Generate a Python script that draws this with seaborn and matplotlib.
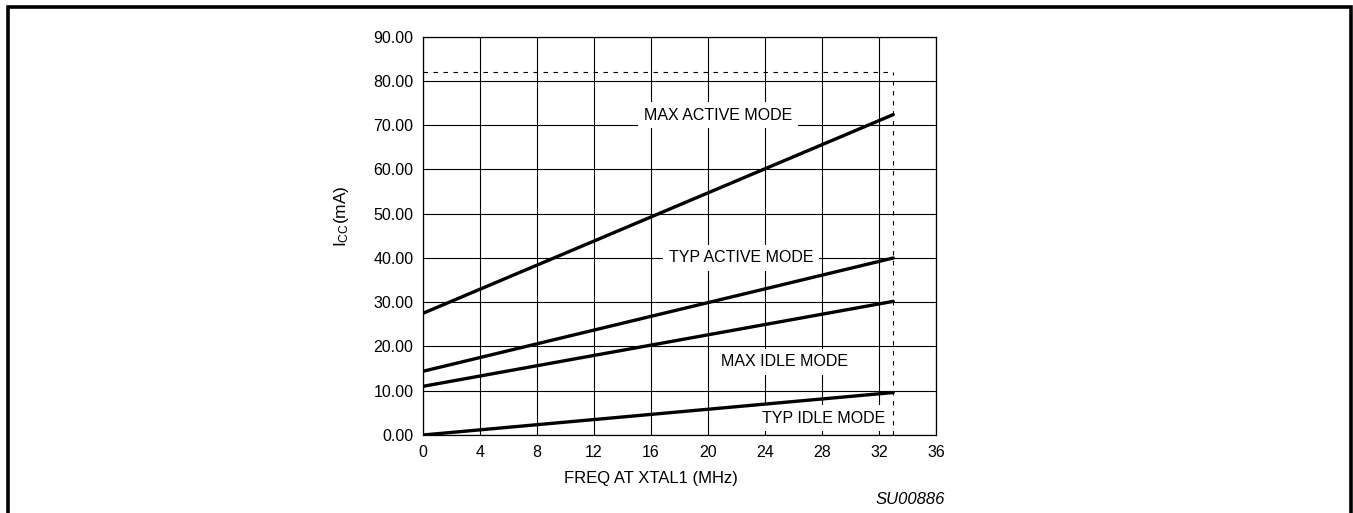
import pandas as pd
import seaborn as sns
import matplotlib.pyplot as plt
from matplotlib.patches import Rectangle

# Data (ICC vs. crystal frequency)
freq_mhz = [0, 33]
max_active = [27.5, 72.4]
typ_active = [14.4, 40.0]
max_idle = [11.0, 30.2]
typ_idle = [0.0, 9.6]

mode_names = ['MAX ACTIVE MODE', 'TYP ACTIVE MODE', 'MAX IDLE MODE', 'TYP IDLE MODE']
label_x = [20.7, 22.3, 25.4, 28.1]
label_y = [72.3, 40.0, 16.5, 3.8]

max_freq = 33
ref_level = 82

x_ticks = list(range(0, 37, 4))
y_ticks = list(range(0, 91, 10))

sns.set_style('white')
plt.rcParams['font.family'] = ['Liberation Sans', 'DejaVu Sans']
plt.rcParams['text.color'] = 'black'
plt.rcParams['axes.labelcolor'] = 'black'
plt.rcParams['xtick.color'] = 'black'
plt.rcParams['ytick.color'] = 'black'
plt.rcParams['mathtext.fontset'] = 'custom'
plt.rcParams['mathtext.rm'] = 'Liberation Sans'
plt.rcParams['mathtext.it'] = 'Liberation Sans:italic'

df = pd.concat([
    pd.DataFrame({'freq': freq_mhz, 'icc': vals, 'mode': name})
    for name, vals in zip(mode_names, [max_active, typ_active, max_idle, typ_idle])
])

fig = plt.figure(figsize=(13.53, 5.13), dpi=100)
ax = fig.add_axes([423 / 1353, 1 - 435 / 513, 513 / 1353, (435 - 36.7) / 513])

# grid first so the label boxes can blank it out
for xv in x_ticks:
    ax.axvline(xv, color='black', lw=0.8, zorder=1)
for yv in y_ticks:
    ax.axhline(yv, color='black', lw=0.8, zorder=1)

sns.lineplot(data=df, x='freq', y='icc', units='mode', estimator=None,
             color='black', lw=2.4, ax=ax, zorder=5)

ax.hlines(ref_level, 0, max_freq, colors='black', linestyles=(0, (4, 5)), lw=0.8, zorder=3)
ax.vlines(max_freq, 0, ref_level, colors='black', linestyles=(0, (4, 5)), lw=0.8, zorder=3)

for name, lx, ly in zip(mode_names, label_x, label_y):
    ax.text(lx, ly, name, ha='center', va='center', fontsize=11.5, zorder=4,
            bbox=dict(facecolor='white', edgecolor='none', pad=4))

ax.set_xlim(0, 36)
ax.set_ylim(0, 90)
ax.set_xticks(x_ticks)
ax.set_yticks(y_ticks)
ax.set_yticklabels([f'{v:.2f}' for v in y_ticks])
ax.tick_params(length=0, labelsize=11.5, pad=7)
for s in ax.spines.values():
    s.set_color('black')
    s.set_linewidth(0.9)

ax.set_xlabel('FREQ AT XTAL1 (MHz)', fontsize=12)
ax.xaxis.set_label_coords(0.445, -0.09)
ax.set_ylabel(r'I$_{\mathrm{CC}}$(mA)', fontsize=12.5)
ax.yaxis.set_label_coords(-0.14, 0.55)

fig.text(945 / 1353, 1 - 499 / 513, 'SU00886', ha='right', va='center',
         fontsize=12, style='italic')

# page frame (bottom edge cut off in the scan)
fig.patches.append(Rectangle((7.5 / 1353, -0.1), (1351 - 7.5) / 1353, 1.1 - 7 / 513,
                             transform=fig.transFigure, fill=False,
                             edgecolor='black', lw=2.6))

fig.savefig('out.png', dpi=100, facecolor='white')
